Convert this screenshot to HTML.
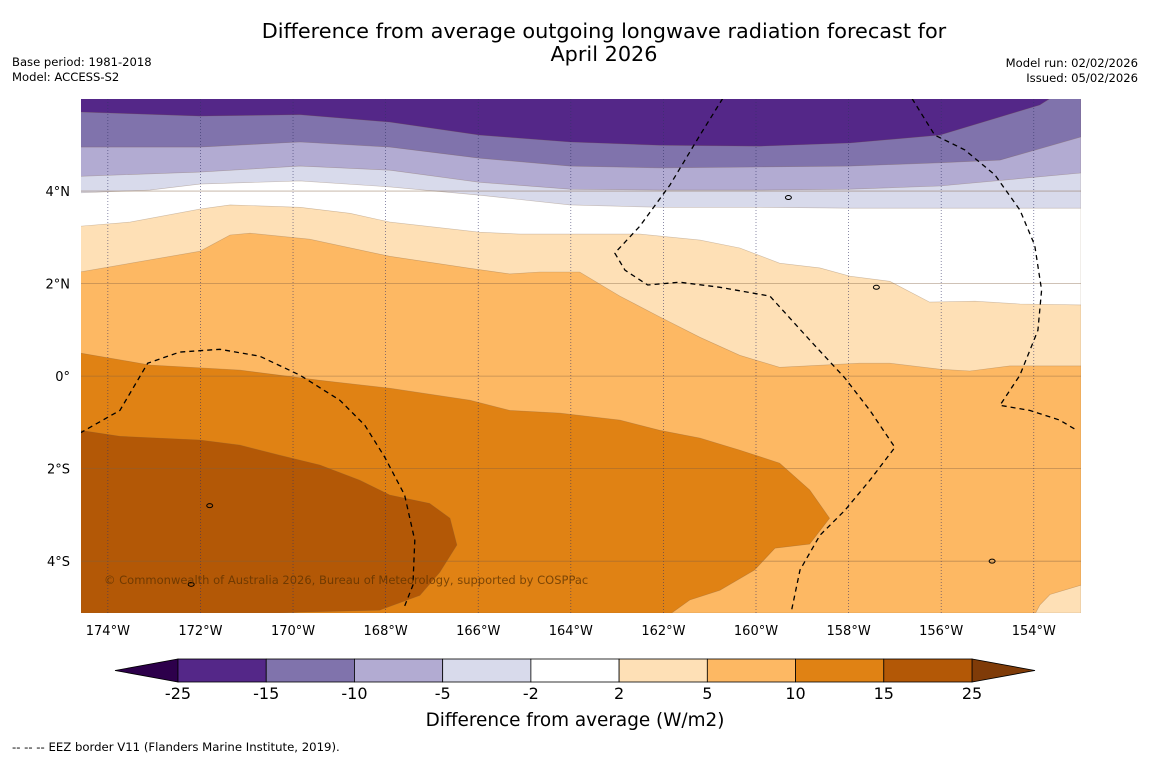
<!DOCTYPE html>
<html><head><meta charset="utf-8"><style>
html,body{margin:0;padding:0;background:#fff;}
body{width:1150px;height:758px;overflow:hidden;font-family:"Liberation Sans","DejaVu Sans",sans-serif;}
</style></head><body>
<svg id="chart" width="1150" height="758" xmlns="http://www.w3.org/2000/svg" font-family="DejaVu Sans, Liberation Sans, sans-serif">
<text x="604" y="38" font-size="20.8" text-anchor="middle">Difference from average outgoing longwave radiation forecast for</text>
<text x="604" y="61" font-size="20.8" text-anchor="middle">April 2026</text>
<text x="12" y="66" font-size="11.6">Base period: 1981-2018</text>
<text x="12" y="81" font-size="11.6">Model: ACCESS-S2</text>
<text x="1138" y="67" font-size="11.6" text-anchor="end">Model run: 02/02/2026</text>
<text x="1138" y="82" font-size="11.6" text-anchor="end">Issued: 05/02/2026</text>
<defs><clipPath id="mapclip"><rect x="81" y="99" width="1000" height="514"/></clipPath></defs>
<g id="map" clip-path="url(#mapclip)"></g>
<g id="axes"></g>
<g id="cbar"></g>
<text x="575" y="726" font-size="18.4" text-anchor="middle">Difference from average (W/m2)</text>
<text x="12" y="751" font-size="11.7">--  --  -- EEZ border V11 (Flanders Marine Institute, 2019).</text>
</svg>
<script>
// Axis domains
const lonMin=-174.58, lonMax=-152.98, latMin=-5.12, latMax=5.99;
const lonTicks=[-174,-172,-170,-168,-166,-164,-162,-160,-158,-156,-154];
const lonTickLabels=["174°W","172°W","170°W","168°W","166°W","164°W","162°W","160°W","158°W","156°W","154°W"];
const latTicks=[4,2,0,-2,-4];
const latTickLabels=["4°N","2°N","0°","2°S","4°S"];
const levels=["-25","-15","-10","-5","-2","2","5","10","15","25"];
const bandColors=["#542788","#8073ac","#b2abd2","#d8daeb","#ffffff","#fee0b6","#fdb863","#e08214","#b35806"];
// Contour boundaries (lon, lat) - each fills area below with next band color
const curveA=[[-174.6,5.71],[-172.01,5.62],[-169.85,5.65],[-167.91,5.49],[-165.97,5.21],[-164.02,5.06],[-162.08,4.99],[-159.92,4.97],[-157.97,5.04],[-156.03,5.21],[-153.87,5.86],[-153.65,6.0],[-152.98,6.0]];
const curveB=[[-174.6,4.95],[-172.01,4.95],[-169.85,5.06],[-167.91,4.95],[-165.97,4.71],[-164.02,4.54],[-162.08,4.50],[-159.92,4.52],[-157.97,4.54],[-156.03,4.61],[-154.73,4.67],[-152.98,5.17]];
const curveC=[[-174.6,4.32],[-172.01,4.41],[-169.85,4.54],[-167.91,4.45],[-165.97,4.19],[-164.02,4.04],[-162.08,4.02],[-159.92,4.02],[-157.97,4.04],[-156.03,4.11],[-152.98,4.39]];
const curveD=[[-174.6,3.96],[-173.09,4.02],[-172.01,4.15],[-169.85,4.22],[-167.91,4.09],[-165.97,3.91],[-164.02,3.70],[-162.08,3.65],[-159.92,3.65],[-157.97,3.63],[-156.03,3.63],[-152.98,3.63]];
const curveE=[[-174.6,3.24],[-173.52,3.33],[-172.01,3.61],[-171.36,3.70],[-169.85,3.65],[-168.77,3.52],[-167.91,3.33],[-165.97,3.11],[-165.10,3.07],[-162.51,3.07],[-161.21,2.94],[-160.35,2.77],[-159.49,2.44],[-158.62,2.34],[-157.97,2.16],[-157.11,2.05],[-156.25,1.60],[-155.27,1.62],[-154.30,1.56],[-152.98,1.54]];
const curveF=[[-174.6,2.25],[-172.01,2.70],[-171.36,3.05],[-170.93,3.09],[-169.64,2.96],[-167.91,2.59],[-166.18,2.33],[-165.32,2.21],[-164.67,2.25],[-163.81,2.25],[-162.94,1.73],[-162.08,1.28],[-161.21,0.84],[-160.35,0.45],[-159.49,0.19],[-157.76,0.28],[-157.11,0.28],[-156.03,0.15],[-155.38,0.11],[-154.52,0.22],[-152.98,0.22]];
const curveG=[[-174.6,0.50],[-173.09,0.24],[-171.15,0.13],[-169.42,-0.09],[-167.91,-0.26],[-166.18,-0.52],[-165.32,-0.74],[-164.24,-0.80],[-162.94,-0.95],[-162.08,-1.17],[-161.21,-1.34],[-160.35,-1.60],[-159.49,-1.88],[-158.84,-2.46],[-158.41,-3.07],[-158.84,-3.63],[-159.59,-3.72],[-160.03,-4.19],[-160.78,-4.63],[-161.43,-4.84],[-161.82,-5.12]];
const curveH=[[-174.6,-1.17],[-173.74,-1.30],[-172.01,-1.38],[-171.15,-1.49],[-170.29,-1.71],[-169.42,-1.92],[-168.56,-2.25],[-167.91,-2.57],[-167.05,-2.75],[-166.61,-3.07],[-166.46,-3.65],[-166.83,-4.24],[-167.26,-4.74],[-168.13,-5.06],[-169.85,-5.10],[-170.29,-5.12]];
const patchSE=[[-152.98,-4.52],[-153.65,-4.72],[-153.87,-4.95],[-153.96,-5.12],[-152.98,-5.12]];
const eez1=[[-174.6,-1.23],[-173.74,-0.74],[-173.14,0.28],[-172.45,0.52],[-171.58,0.58],[-170.72,0.43],[-169.85,0.02],[-168.99,-0.52],[-168.45,-1.06],[-168.02,-1.75],[-167.59,-2.57],[-167.37,-3.55],[-167.41,-4.52],[-167.61,-5.02]];
const eez2=[[-160.72,6.0],[-161.21,5.21],[-161.86,4.13],[-162.51,3.24],[-163.05,2.66],[-162.83,2.29],[-162.34,1.97],[-161.65,2.03],[-160.78,1.92],[-159.70,1.73],[-158.84,0.78],[-158.08,-0.04],[-157.54,-0.74],[-157.00,-1.54],[-157.54,-2.25],[-158.08,-2.90],[-158.62,-3.44],[-159.05,-4.19],[-159.23,-5.06]];
const eez3=[[-156.63,6.0],[-156.14,5.21],[-155.49,4.89],[-154.84,4.35],[-154.30,3.59],[-153.98,2.83],[-153.83,1.86],[-153.91,0.99],[-154.30,0.02],[-154.73,-0.63],[-154.09,-0.74],[-153.44,-0.95],[-153.07,-1.17]];

const X0=81,X1=1081,Y0=99,Y1=613;
function xs(lon){return X0+(lon-lonMin)/(lonMax-lonMin)*(X1-X0);}
function ys(lat){return Y0+(latMax-lat)/(latMax-latMin)*(Y1-Y0);}
const NS="http://www.w3.org/2000/svg";
function mk(tag,attrs,parent){const e=document.createElementNS(NS,tag);for(const k in attrs)e.setAttribute(k,attrs[k]);parent.appendChild(e);return e;}
function pts(arr){return arr.map(p=>xs(p[0]).toFixed(1)+","+ys(p[1]).toFixed(1));}
const map=document.getElementById('map');
let bg=mk('rect',{x:X0,y:Y0,width:X1-X0,height:Y1-Y0,fill:bandColors[0]},map);


const curves=[curveA,curveB,curveC,curveD,curveE,curveF,curveG,curveH];
const bandNames=["band-minus15-minus10","band-minus10-minus5","band-minus5-minus2","band-minus2-2","band-2-5","band-5-10","band-10-15","band-15-25"];
curves.forEach((c,i)=>{
  let p=pts(c);
  const last=c[c.length-1];
  if(last[1]>latMin+0.01){p.push(xs(lonMax)+","+ys(latMin));}
  p.push(xs(lonMin)+","+ys(latMin));
  const el=mk('polygon',{points:p.join(" "),fill:bandColors[i+1],stroke:"rgba(120,90,60,0.35)","stroke-width":0.6},map);
  
  
});
const pse=mk('polygon',{points:pts(patchSE).join(" "),fill:bandColors[5],stroke:"rgba(120,90,60,0.35)","stroke-width":0.6},map);


// gridlines
lonTicks.forEach(l=>{
  const g=mk('line',{x1:xs(l),x2:xs(l),y1:Y0,y2:Y1,stroke:"#333366","stroke-width":0.7,"stroke-dasharray":"1,2",opacity:0.8},map);
  
  
});
latTicks.forEach(l=>{
  const g=mk('line',{x1:X0,x2:X1,y1:ys(l),y2:ys(l),stroke:"#806040","stroke-width":0.8,opacity:0.5},map);
  
  
});
[eez1,eez2,eez3].forEach(e=>{
  const l=mk('polyline',{points:pts(e).join(" "),fill:"none",stroke:"#000","stroke-width":1.3,"stroke-dasharray":"5,4"},map);
  
  
});
// small islands
const islands=[[-159.3,3.86],[-157.4,1.92],[-171.8,-2.8],[-172.2,-4.5],[-154.9,-4.0]];
islands.forEach(s=>{
  const e=mk('ellipse',{cx:xs(s[0]),cy:ys(s[1]),rx:3,ry:2,fill:"none",stroke:"#000","stroke-width":1},map);
  
  
});
const cp=mk('text',{x:104,y:584,"font-size":11.5,fill:"#5a3000","fill-opacity":0.75},map);
cp.textContent="© Commonwealth of Australia 2026, Bureau of Meteorology, supported by COSPPac";


// tick labels
const axes=document.getElementById('axes');
lonTicks.forEach((l,i)=>{
  const t=mk('text',{x:xs(l),y:635,"font-size":13,"text-anchor":"middle"},axes);
  t.textContent=lonTickLabels[i];
  
  
});
latTicks.forEach((l,i)=>{
  const t=mk('text',{x:70,y:ys(l)+5,"font-size":13,"text-anchor":"end"},axes);
  t.textContent=latTickLabels[i];
  
  
});
// colorbar
const cb=document.getElementById('cbar');
const cbX0=178,cbX1=972,cbY=659,cbH=23,bw=(cbX1-cbX0)/bandColors.length;
const lt=mk('polygon',{points:`${cbX0},${cbY} ${cbX0},${cbY+cbH} 115,${cbY+cbH/2}`,fill:"#2d004b",stroke:"#000","stroke-width":0.8},cb);


const rt=mk('polygon',{points:`${cbX1},${cbY} ${cbX1},${cbY+cbH} 1035,${cbY+cbH/2}`,fill:"#7f3b08",stroke:"#000","stroke-width":0.8},cb);


bandColors.forEach((c,i)=>{
  const r=mk('rect',{x:cbX0+i*bw,y:cbY,width:bw,height:cbH,fill:c,stroke:"#000","stroke-width":0.8},cb);
  
  
});
levels.forEach((v,i)=>{
  const t=mk('text',{x:cbX0+i*bw,y:699,"font-size":16,"text-anchor":"middle"},cb);
  t.textContent=v;
  
  
});
</script>
</body></html>
